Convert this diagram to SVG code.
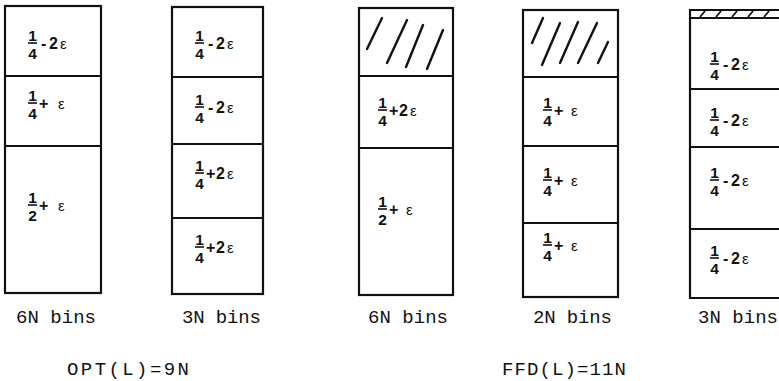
<svg xmlns="http://www.w3.org/2000/svg" width="779" height="381" viewBox="0 0 779 381">
<style>
.box{fill:none;stroke:#111;stroke-width:2.2}
.ln{stroke:#111;stroke-width:2}
.bar{stroke:#111;stroke-width:1.6}
.h{stroke:#111;stroke-width:2.4;stroke-linecap:round}
.d{font-family:"Liberation Sans",Arial,sans-serif;font-weight:bold;font-size:15.5px;fill:#111;text-anchor:middle}
.t{font-family:"Liberation Sans",Arial,sans-serif;font-weight:bold;font-size:16px;fill:#111}
.e{font-weight:normal;font-size:15px}
.lb{font-family:"Liberation Mono","Courier New",monospace;font-size:19px;fill:#111}
</style>
<rect width="779" height="381" fill="#fff"/>

<g id="bin1">
<rect class="box" x="5" y="6" width="96" height="287"/>
<line class="ln" x1="5" y1="76" x2="101" y2="76"/>
<line class="ln" x1="5" y1="146" x2="101" y2="146"/>
<text class="d" x="32.5" y="41">1</text><line class="bar" x1="28" y1="43" x2="37" y2="43"/><text class="d" x="32.5" y="58.5">4</text>
<text class="t" y="49"><tspan x="41">-</tspan><tspan x="49">2</tspan><tspan class="e" x="60">ε</tspan></text>
<text class="d" x="32.5" y="101">1</text><line class="bar" x1="28" y1="103" x2="37" y2="103"/><text class="d" x="32.5" y="118.5">4</text>
<text class="t" y="109"><tspan x="39">+</tspan><tspan class="e" x="58">ε</tspan></text>
<text class="d" x="32.5" y="203">1</text><line class="bar" x1="28" y1="205" x2="37" y2="205"/><text class="d" x="32.5" y="220.5">2</text>
<text class="t" y="211"><tspan x="39">+</tspan><tspan class="e" x="58">ε</tspan></text>
</g>

<g id="bin2">
<rect class="box" x="172" y="7" width="91" height="287"/>
<line class="ln" x1="172" y1="77" x2="263" y2="77"/>
<line class="ln" x1="172" y1="144" x2="263" y2="144"/>
<line class="ln" x1="172" y1="218" x2="263" y2="218"/>
<text class="d" x="199.5" y="41">1</text><line class="bar" x1="195" y1="43" x2="204" y2="43"/><text class="d" x="199.5" y="58.5">4</text>
<text class="t" y="49"><tspan x="208">-</tspan><tspan x="216">2</tspan><tspan class="e" x="227">ε</tspan></text>
<text class="d" x="199.5" y="105">1</text><line class="bar" x1="195" y1="107" x2="204" y2="107"/><text class="d" x="199.5" y="122.5">4</text>
<text class="t" y="113"><tspan x="208">-</tspan><tspan x="216">2</tspan><tspan class="e" x="227">ε</tspan></text>
<text class="d" x="199.5" y="171">1</text><line class="bar" x1="195" y1="173" x2="204" y2="173"/><text class="d" x="199.5" y="188.5">4</text>
<text class="t" y="179"><tspan x="206">+</tspan><tspan x="216">2</tspan><tspan class="e" x="227">ε</tspan></text>
<text class="d" x="199.5" y="245">1</text><line class="bar" x1="195" y1="247" x2="204" y2="247"/><text class="d" x="199.5" y="262.5">4</text>
<text class="t" y="253"><tspan x="206">+</tspan><tspan x="216">2</tspan><tspan class="e" x="227">ε</tspan></text>
</g>

<g id="bin3">
<rect class="box" x="359" y="8" width="94" height="287"/>
<line class="ln" x1="359" y1="76" x2="453" y2="76"/>
<line class="ln" x1="359" y1="148" x2="453" y2="148"/>
<line class="h" x1="382" y1="18" x2="367" y2="49"/>
<line class="h" x1="407" y1="20" x2="387" y2="63"/>
<line class="h" x1="423" y1="25" x2="406" y2="67"/>
<line class="h" x1="443" y1="30" x2="427" y2="69"/>
<text class="d" x="382.5" y="108">1</text><line class="bar" x1="378" y1="110" x2="387" y2="110"/><text class="d" x="382.5" y="125.5">4</text>
<text class="t" y="116"><tspan x="389">+</tspan><tspan x="399">2</tspan><tspan class="e" x="410">ε</tspan></text>
<text class="d" x="382.5" y="207">1</text><line class="bar" x1="378" y1="209" x2="387" y2="209"/><text class="d" x="382.5" y="224.5">2</text>
<text class="t" y="215"><tspan x="389">+</tspan><tspan class="e" x="406">ε</tspan></text>
</g>

<g id="bin4">
<rect class="box" x="523" y="10" width="95" height="287"/>
<line class="ln" x1="523" y1="77" x2="618" y2="77"/>
<line class="ln" x1="523" y1="146" x2="618" y2="146"/>
<line class="ln" x1="523" y1="223" x2="618" y2="223"/>
<line class="h" x1="543" y1="18" x2="532" y2="43"/>
<line class="h" x1="560" y1="23" x2="542" y2="65"/>
<line class="h" x1="578" y1="22" x2="560" y2="63"/>
<line class="h" x1="597" y1="23" x2="578" y2="63"/>
<line class="h" x1="608" y1="42" x2="598" y2="63"/>
<text class="d" x="547.5" y="108">1</text><line class="bar" x1="543" y1="110" x2="552" y2="110"/><text class="d" x="547.5" y="125.5">4</text>
<text class="t" y="116"><tspan x="554">+</tspan><tspan class="e" x="571">ε</tspan></text>
<text class="d" x="547.5" y="178">1</text><line class="bar" x1="543" y1="180" x2="552" y2="180"/><text class="d" x="547.5" y="195.5">4</text>
<text class="t" y="186"><tspan x="554">+</tspan><tspan class="e" x="571">ε</tspan></text>
<text class="d" x="547.5" y="243">1</text><line class="bar" x1="543" y1="245" x2="552" y2="245"/><text class="d" x="547.5" y="260.5">4</text>
<text class="t" y="251"><tspan x="554">+</tspan><tspan class="e" x="571">ε</tspan></text>
</g>

<g id="bin5">
<path class="box" d="M779,10 H690 V298 H779"/>
<line class="ln" x1="690" y1="18" x2="779" y2="18"/>
<line class="ln" x1="690" y1="89" x2="779" y2="89"/>
<line class="ln" x1="690" y1="147" x2="779" y2="147"/>
<line class="ln" x1="690" y1="229" x2="779" y2="229"/>
<g stroke="#111" stroke-width="1.8">
<line x1="700" y1="17" x2="705" y2="11"/>
<line x1="716" y1="17" x2="721" y2="11"/>
<line x1="732" y1="17" x2="737" y2="11"/>
<line x1="748" y1="17" x2="753" y2="11"/>
<line x1="764" y1="17" x2="769" y2="11"/>
</g>
<text class="d" x="714.5" y="62">1</text><line class="bar" x1="710" y1="64" x2="719" y2="64"/><text class="d" x="714.5" y="79.5">4</text>
<text class="t" y="70"><tspan x="723">-</tspan><tspan x="731">2</tspan><tspan class="e" x="742">ε</tspan></text>
<text class="d" x="714.5" y="118">1</text><line class="bar" x1="710" y1="120" x2="719" y2="120"/><text class="d" x="714.5" y="135.5">4</text>
<text class="t" y="126"><tspan x="723">-</tspan><tspan x="731">2</tspan><tspan class="e" x="742">ε</tspan></text>
<text class="d" x="714.5" y="178">1</text><line class="bar" x1="710" y1="180" x2="719" y2="180"/><text class="d" x="714.5" y="195.5">4</text>
<text class="t" y="186"><tspan x="723">-</tspan><tspan x="731">2</tspan><tspan class="e" x="742">ε</tspan></text>
<text class="d" x="714.5" y="256">1</text><line class="bar" x1="710" y1="258" x2="719" y2="258"/><text class="d" x="714.5" y="273.5">4</text>
<text class="t" y="264"><tspan x="723">-</tspan><tspan x="731">2</tspan><tspan class="e" x="742">ε</tspan></text>
</g>

<g id="labels">
<text class="lb" x="16" y="323" textLength="80" lengthAdjust="spacing">6N bins</text>
<text class="lb" x="182" y="323" textLength="79" lengthAdjust="spacing">3N bins</text>
<text class="lb" x="368" y="323" textLength="80" lengthAdjust="spacing">6N bins</text>
<text class="lb" x="533" y="323" textLength="79" lengthAdjust="spacing">2N bins</text>
<text class="lb" x="698" y="323" textLength="80" lengthAdjust="spacing">3N bins</text>
<text class="lb" x="67" y="375" textLength="122" lengthAdjust="spacing">OPT(L)=9N</text>
<text class="lb" x="502" y="375" textLength="124" lengthAdjust="spacing">FFD(L)=11N</text>
</g>
</svg>
